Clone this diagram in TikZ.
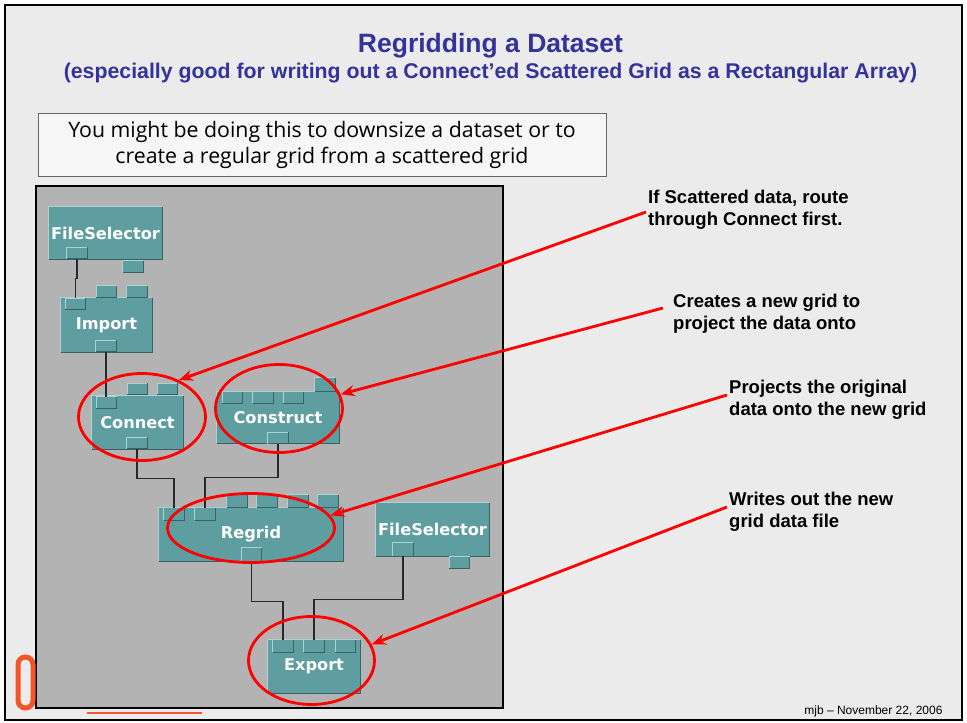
\documentclass[tikz,border=0pt]{standalone}
\usepackage{fontspec}
\setmainfont{Liberation Sans}
\newfontfamily\modfont{DejaVu Sans}
\newfontfamily\boxfont{Open Sans}
\usetikzlibrary{shapes.geometric,arrows.meta,calc}
\definecolor{teal0}{RGB}{95,158,160}
\definecolor{tealhi}{RGB}{172,210,211}
\definecolor{tealsh}{RGB}{58,98,100}
\definecolor{panelgray}{RGB}{179,179,179}
\definecolor{slidebg}{RGB}{235,235,235}
\definecolor{boxbg}{RGB}{246,246,246}
\definecolor{titleblue}{RGB}{51,51,153}
\definecolor{wirecol}{RGB}{40,40,40}
\definecolor{logoorange}{RGB}{242,85,40}
\newcommand\bevelbox[1]{%
  \draw[tealhi,line width=1pt] (#1.south west) -- (#1.north west) -- (#1.north east);
  \draw[tealsh,line width=1pt] (#1.south west) -- (#1.south east) -- (#1.north east);}
\begin{document}
\begin{tikzpicture}[x=1pt,y=-1pt,
  module/.style={fill=teal0, draw=none, inner sep=0pt, text=white,
    font=\modfont\bfseries\fontsize{16.2}{19}\selectfont},
  port/.style={fill=teal0, draw=none, inner sep=0pt, minimum width=20pt, minimum height=11pt},
  wire/.style={draw=wirecol, line width=1.4pt},
  redell/.style={ellipse, draw=red, line width=2.8pt, inner sep=0pt, fill=none},
  redarr/.style={draw=red, line width=2.8pt, -{Stealth[length=14pt,width=11pt]}},
  note/.style={anchor=north west, inner sep=0pt, align=left,
    font=\bfseries\fontsize{18.5}{22}\selectfont}
]
\useasboundingbox (0,0) rectangle (967,723);
\fill[white] (0,0) rectangle (967,723);
% slide frame
\draw[fill=slidebg, line width=2.5pt] (5,5) rectangle (962,720);
% title
\node[font=\bfseries\fontsize{26.5}{30}\selectfont, text=titleblue, anchor=base] (title) at (490.5,52) {Regridding a Dataset};
\node[font=\bfseries\fontsize{21.3}{24}\selectfont, text=titleblue, anchor=base] (subtitle) at (490.5,78) {(especially good for writing out a Connect’ed Scattered Grid as a Rectangular Array)};
% text box
\node[draw=black!60, fill=boxbg, line width=1pt, minimum width=568pt, minimum height=63pt,
  align=center, font=\boxfont\fontsize{21.3}{26}\selectfont] (tb) at (322,145)
  {You might be doing this to downsize a dataset or to\\create a regular grid from a scattered grid};
% network panel
\draw[fill=panelgray, line width=2pt] (36,186) rectangle (503,708);

% FileSelector 1
\node[module, minimum width=113pt, minimum height=52pt] (fs1) at (105.5,233) {FileSelector};
\bevelbox{fs1}
\node[port] (fs1o) at (77,253) {}; \bevelbox{fs1o}
\node[port] (fs1x) at (133,266.5) {}; \bevelbox{fs1x}
% Import
\node[module, minimum width=91pt, minimum height=54pt] (imp) at (106.5,325) {Import};
\bevelbox{imp}
\node[port] (impi) at (75.5,304) {}; \bevelbox{impi}
\node[port] (impt1) at (106.5,291.5) {}; \bevelbox{impt1}
\node[port] (impt2) at (137,291.5) {}; \bevelbox{impt2}
\node[port] (impo) at (106,346) {}; \bevelbox{impo}
% Connect
\node[module, minimum width=91pt, minimum height=53pt] (con) at (137.5,422.5) {Connect};
\bevelbox{con}
\node[port] (coni) at (106.5,402.5) {}; \bevelbox{coni}
\node[port] (cont1) at (137.5,389) {}; \bevelbox{cont1}
\node[port] (cont2) at (167.5,389) {}; \bevelbox{cont2}
\node[port] (cono) at (137,443) {}; \bevelbox{cono}
% Construct
\node[module, minimum width=122pt, minimum height=51pt] (cst) at (278,417.5) {Construct};
\bevelbox{cst}
\node[port] (csti1) at (232.5,397.5) {}; \bevelbox{csti1}
\node[port] (csti2) at (263,397.5) {}; \bevelbox{csti2}
\node[port] (csti3) at (293.5,397.5) {}; \bevelbox{csti3}
\node[port, minimum height=13pt] (cstx) at (325,384.5) {}; \bevelbox{cstx}
\node[port] (csto) at (278,438) {}; \bevelbox{csto}
% Regrid
\node[module, minimum width=184pt, minimum height=53pt] (rg) at (251,534.5) {Regrid};
\bevelbox{rg}
\node[port, minimum height=12pt] (rgi1) at (174,514) {}; \bevelbox{rgi1}
\node[port, minimum height=12pt] (rgi2) at (205,514) {}; \bevelbox{rgi2}
\node[port, minimum height=12pt] (rgt1) at (237,501) {}; \bevelbox{rgt1}
\node[port, minimum height=12pt] (rgt2) at (267,501) {}; \bevelbox{rgt2}
\node[port, minimum height=12pt] (rgt3) at (298,501) {}; \bevelbox{rgt3}
\node[port, minimum height=12pt] (rgt4) at (328,501) {}; \bevelbox{rgt4}
\node[port, minimum height=13pt] (rgo) at (251.5,554.5) {}; \bevelbox{rgo}
% FileSelector 2
\node[module, minimum width=113pt, minimum height=53pt] (fs2) at (432.5,529.5) {FileSelector};
\bevelbox{fs2}
\node[port, minimum height=13pt] (fs2o) at (403,549.5) {}; \bevelbox{fs2o}
\node[port] (fs2x) at (459.5,562.5) {}; \bevelbox{fs2x}
% Export
\node[module, minimum width=92pt, minimum height=53pt] (exp) at (314,666.5) {Export};
\bevelbox{exp}
\node[port, minimum height=12pt] (expi1) at (283,646) {}; \bevelbox{expi1}
\node[port, minimum height=12pt] (expi2) at (314,646) {}; \bevelbox{expi2}
\node[port, minimum height=12pt] (expi3) at (345.5,646) {}; \bevelbox{expi3}

% wires
\draw[wire] (fs1o.south) -- ++(0,20) -| (impi.north);
\draw[wire] (impo.south) -- (impo.south |- coni.north);
\draw[wire] (cono.south) -- ++(0,30) -| (rgi1.north);
\draw[wire] (csto.south) -- ++(0,34) -| (rgi2.north);
\draw[wire] (rgo.south) -- ++(0,40) -| (expi1.north);
\draw[wire] (fs2o.south) -- ++(0,43) -| (expi2.north);

% red ellipses
\node[redell, minimum width=127pt, minimum height=87pt] (e1) at (142,417) {};
\node[redell, minimum width=127pt, minimum height=88pt] (e2) at (279,408.5) {};
\node[redell, minimum width=167pt, minimum height=69pt] (e3) at (251,528) {};
\node[redell, minimum width=126pt, minimum height=88pt] (e4) at (311.5,660.5) {};

% notes
\node[note] (n1) at (648,190) {If Scattered data, route\\through Connect first.};
\node[note] (n2) at (673,294) {Creates a new grid to\\project the data onto};
\node[note] (n3) at (729,380) {Projects the original\\data onto the new grid};
\node[note] (n4) at (729,492) {Writes out the new\\grid data file};

% arrows
\coordinate (n1s) at (646,212);
\coordinate (n2s) at (663,308);
\coordinate (n3s) at (727,395);
\coordinate (n4s) at (727,507);
\draw[redarr] (n1s) -- (e1.45);
\draw[redarr] (n2s) -- (e2.13);
\draw[redarr] (n3s) -- (e3.9);
\draw[redarr] (n4s) -- (e4.15);

% footer
\node[anchor=base east, font=\fontsize{12}{14}\selectfont] (footer) at (946,714) {mjb \textendash{} November 22, 2006};
% partial logo
\draw[logoorange, line width=5pt, rounded corners=7.5pt] (18,657) rectangle (33,708);
\draw[logoorange, line width=1.2pt] (87,713) -- (202,713);
\end{tikzpicture}
\end{document}
